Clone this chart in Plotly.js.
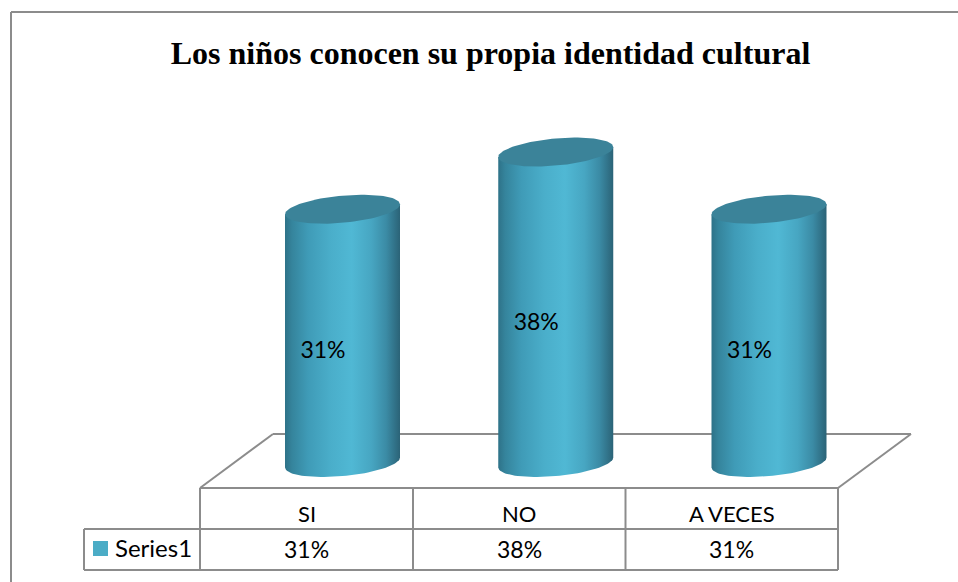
<!DOCTYPE html>
<html>
<head>
<meta charset="utf-8">
<script src="https://cdn.plot.ly/plotly-3.0.1.min.js"></script>
<style>html,body{margin:0;padding:0;background:#fff}#chart{width:958px;height:582px}</style>
</head>
<body>
<div id="chart"></div>
<script>
const categories = ["SI", "NO", "A VECES"];
const values = [31, 38, 31];
const seriesName = "Series1";
const chartTitle = "Los niños conocen su propia identidad cultural";

const W = 958, H = 582;
const LINE = "#8c8c8c";
const TEXT_FONT = "Lato, sans-serif";

// scale: category spacing and percent height, in pixels
const PX_PER_CAT = 213.25, X0_PX = 342.5, PX_PER_PCT = 8.17, Y0_PX = 462.5;
const xRange = [(0 - X0_PX) / PX_PER_CAT, (W - X0_PX) / PX_PER_CAT];
const yRange = [(Y0_PX - H) / PX_PER_PCT, Y0_PX / PX_PER_PCT];
const dx = p => p / PX_PER_CAT;
const dy = p => p / PX_PER_PCT;
const px = x => x / W;
const py = y => 1 - y / H;

const HALF_W = 57.5, TILT = 5, MINOR = 13.6;
const bodyScale = [
  [0, "#2e7288"], [0.06, "#35849c"], [0.2, "#3f9bb7"], [0.4, "#4aaeca"],
  [0.58, "#50b8d4"], [0.75, "#47a6c2"], [0.88, "#3b8ba5"], [1, "#2b6377"]
];
const TOP_COLOR = "#3b8399";

function ellipsePt(cat, val, t) {
  return [
    cat + dx(HALF_W * Math.cos(t)),
    val + dy(TILT * Math.cos(t) + MINOR * Math.sin(t))
  ];
}

const traces = [];
values.forEach((v, i) => {
  const bx = [], by = [], tx = [], ty = [];
  for (let k = 0; k <= 48; k++) {
    const p = ellipsePt(i, 0, Math.PI + (Math.PI * k) / 48);
    bx.push(p[0]); by.push(p[1]);
  }
  const tr = ellipsePt(i, v, 0), tl = ellipsePt(i, v, Math.PI);
  bx.push(tr[0], tl[0], bx[0]);
  by.push(tr[1], tl[1], by[0]);
  for (let k = 0; k <= 96; k++) {
    const p = ellipsePt(i, v, (2 * Math.PI * k) / 96);
    tx.push(p[0]); ty.push(p[1]);
  }
  traces.push({
    x: bx, y: by, type: "scatter", mode: "lines", fill: "toself",
    line: { width: 0 }, hoverinfo: "skip", showlegend: false,
    fillgradient: { type: "horizontal", colorscale: bodyScale, start: i - dx(HALF_W), stop: i + dx(HALF_W) }
  });
  traces.push({
    x: tx, y: ty, type: "scatter", mode: "lines", fill: "toself",
    line: { width: 0 }, fillcolor: TOP_COLOR, hoverinfo: "skip", showlegend: false
  });
});

traces.push({
  x: categories.map((c, i) => i - dx(19.5)),
  y: values.map(v => v / 2 - dy(16.5)),
  text: values.map(v => v + "%"),
  type: "scatter", mode: "text", textposition: "middle center",
  textfont: { family: TEXT_FONT, size: 23, color: "#000" },
  hoverinfo: "skip", showlegend: false
});

function seg(x0, y0, x1, y1, width, layer) {
  return {
    type: "line", xref: "paper", yref: "paper",
    x0: px(x0), y0: py(y0), x1: px(x1), y1: py(y1),
    line: { color: LINE, width: width || 2 }, layer: layer || "above"
  };
}

const colX = [200, 413, 625.5, 838];
const rowY = [488, 529, 570];
const shapes = [
  seg(11, 12, 958, 12), seg(11, 12, 11, 582),
  seg(200, 488, 273, 434, 2, "below"), seg(273, 434, 911, 434, 2, "below"), seg(911, 434, 838, 488, 2, "below"),
  seg(200, 488, 838, 488), seg(200, 529, 838, 529), seg(84, 570, 838, 570),
  seg(84, 529, 200, 529), seg(84, 529, 84, 570)
];
colX.forEach(x => shapes.push(seg(x, rowY[0], x, rowY[2])));
shapes.push({
  type: "rect", xref: "paper", yref: "paper",
  x0: px(93), x1: px(108), y0: py(556), y1: py(541),
  fillcolor: "#4bacc6", line: { width: 0 }
});

function label(text, x, y, anchor, size) {
  return {
    text: text, xref: "paper", yref: "paper", x: px(x), y: py(y),
    xanchor: anchor || "center", yanchor: "middle", showarrow: false,
    font: { family: TEXT_FONT, size: size || 22, color: "#000" }
  };
}
const annotations = [];
categories.forEach((c, i) => {
  const mid = (colX[i] + colX[i + 1]) / 2;
  annotations.push(label(c, mid, 513.5));
  annotations.push(label(values[i] + "%", mid, 549, "center", 23));
});
annotations.push(label(seriesName, 113, 547.5, "left", 24));

const layout = {
  width: W, height: H,
  margin: { l: 0, r: 0, t: 0, b: 0, pad: 0 },
  paper_bgcolor: "#fff", plot_bgcolor: "#fff",
  showlegend: false,
  title: {
    text: "<b>" + chartTitle + "</b>",
    x: 490.5 / W, xanchor: "center", y: 1 - 53 / H, yanchor: "middle",
    font: { family: "'Liberation Serif', serif", size: 32, color: "#000" }
  },
  xaxis: { range: xRange, visible: false, fixedrange: true },
  yaxis: { range: yRange, visible: false, fixedrange: true },
  shapes: shapes,
  annotations: annotations
};

Plotly.newPlot("chart", traces, layout, { displayModeBar: false, staticPlot: true });
</script>
</body>
</html>
